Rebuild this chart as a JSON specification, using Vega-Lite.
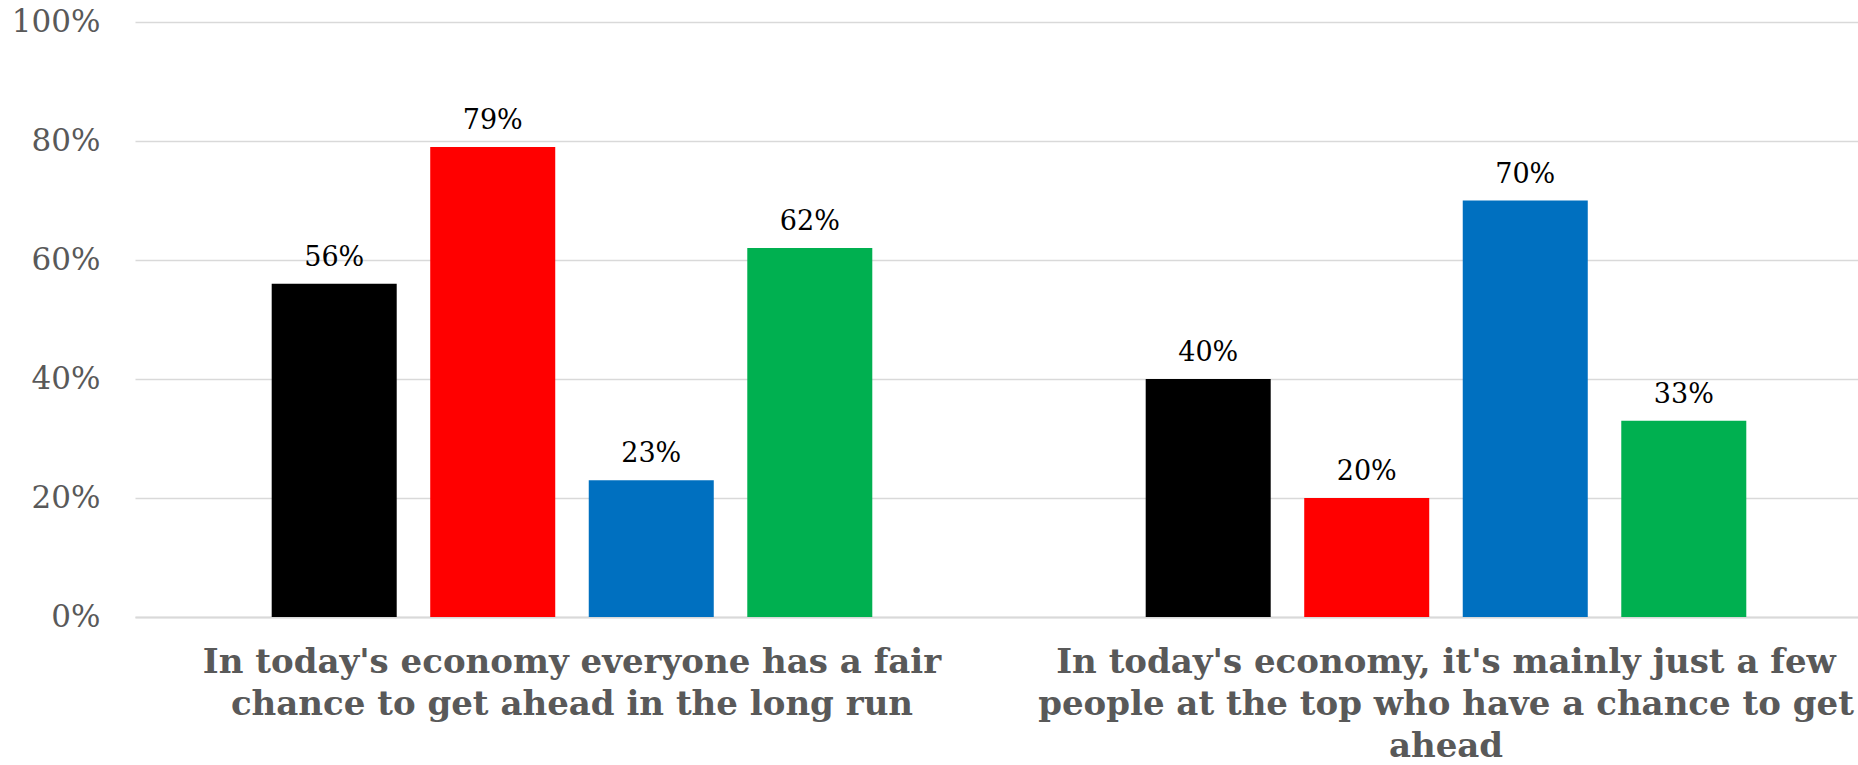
{
  "$schema": "https://vega.github.io/schema/vega-lite/v6.json",
  "autosize": "none",
  "width": 1723,
  "height": 595,
  "padding": {"left": 135, "top": 22, "right": 0, "bottom": 148},
  "background": "white",
  "config": {"view": {"stroke": null}},
  "data": {
    "values": [
      {"question": "In today's economy everyone has a fair chance to get ahead in the long run", "series": "Total", "order": 1, "value": 0.56},
      {"question": "In today's economy everyone has a fair chance to get ahead in the long run", "series": "Republicans", "order": 2, "value": 0.79},
      {"question": "In today's economy everyone has a fair chance to get ahead in the long run", "series": "Democrats", "order": 3, "value": 0.23},
      {"question": "In today's economy everyone has a fair chance to get ahead in the long run", "series": "Independents", "order": 4, "value": 0.62},
      {"question": "In today's economy, it's mainly just a few people at the top who have a chance to get ahead", "series": "Total", "order": 1, "value": 0.40},
      {"question": "In today's economy, it's mainly just a few people at the top who have a chance to get ahead", "series": "Republicans", "order": 2, "value": 0.20},
      {"question": "In today's economy, it's mainly just a few people at the top who have a chance to get ahead", "series": "Democrats", "order": 3, "value": 0.70},
      {"question": "In today's economy, it's mainly just a few people at the top who have a chance to get ahead", "series": "Independents", "order": 4, "value": 0.33}
    ]
  },
  "encoding": {
    "x": {
      "field": "question",
      "type": "nominal",
      "sort": null,
      "title": null,
      "scale": {"paddingInner": 0.2, "paddingOuter": 0.0857, "align": 0.5834},
      "axis": {
        "labelAngle": 0,
        "ticks": false,
        "domainColor": "#d9d9d9",
        "domainWidth": 2,
        "labelFont": "DejaVu Serif",
        "labelFontSize": 34,
        "labelFontWeight": "bold",
        "labelColor": "#595959",
        "labelPadding": 28,
        "labelLineHeight": 42,
        "labelLimit": 1000,
        "labelExpr": "length(datum.value) < 80 ? [\"In today's economy everyone has a fair\", \"chance to get ahead in the long run\"] : [\"In today's economy, it's mainly just a few\", \"people at the top who have a chance to get\", \"ahead\"]"
      }
    },
    "xOffset": {
      "field": "series",
      "type": "nominal",
      "sort": ["Total", "Republicans", "Democrats", "Independents"],
      "scale": {"paddingInner": 0.2114, "paddingOuter": 0.311}
    },
    "y": {
      "field": "value",
      "type": "quantitative",
      "title": null,
      "scale": {"domain": [0, 1]},
      "axis": {
        "values": [0, 0.2, 0.4, 0.6, 0.8, 1],
        "format": ".0%",
        "domain": false,
        "ticks": false,
        "gridColor": "#d9d9d9",
        "gridWidth": 1.5,
        "labelFont": "DejaVu Serif",
        "labelFontSize": 31,
        "labelColor": "#595959",
        "labelPadding": 35
      }
    }
  },
  "layer": [
    {
      "mark": {"type": "bar"},
      "encoding": {
        "color": {
          "field": "series",
          "type": "nominal",
          "legend": null,
          "scale": {
            "domain": ["Total", "Republicans", "Democrats", "Independents"],
            "range": ["#000000", "#ff0000", "#0070c0", "#00b050"]
          }
        }
      }
    },
    {
      "mark": {"type": "text", "baseline": "bottom", "dy": -12, "font": "DejaVu Serif", "fontSize": 27, "color": "#000000"},
      "encoding": {
        "text": {"field": "value", "type": "quantitative", "format": ".0%"}
      }
    }
  ]
}
